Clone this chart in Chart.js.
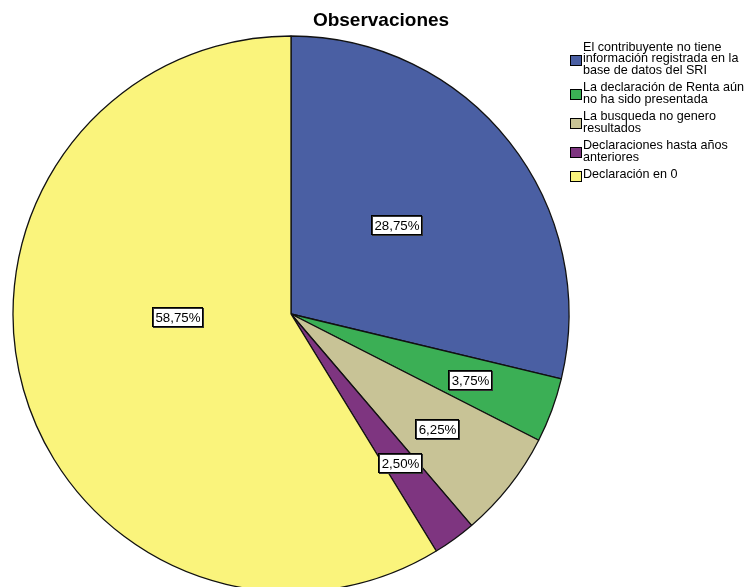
<!DOCTYPE html>
<html>
<head>
<meta charset="utf-8">
<title>Observaciones</title>
<script src="https://cdn.jsdelivr.net/npm/chart.js@4.4.0/dist/chart.umd.min.js"></script>
<style>
  html, body { margin: 0; padding: 0; background: #fff; }
  #wrap { width: 752px; height: 587px; overflow: hidden; }
</style>
</head>
<body>
<div id="wrap"><canvas id="pieChart" width="752" height="587"></canvas></div>
<script>
// categories (legend lines) and their shares in percent
const categories = [
  ['El contribuyente no tiene', 'información registrada en la', 'base de datos del SRI'],
  ['La declaración de Renta aún', 'no ha sido presentada'],
  ['La busqueda no genero', 'resultados'],
  ['Declaraciones hasta años', 'anteriores'],
  ['Declaración en 0']
];
const percentages = [28.75, 3.75, 6.25, 2.50, 58.75];
const sliceColors = ['#4a5fa3', '#3baf55', '#c8c396', '#7e3580', '#faf47c'];
const chartTitle = 'Observaciones';

const FONT = '"Liberation Sans", Arial, sans-serif';

// where each value box sits inside its slice (fraction of radius, angle shift in degrees)
const labelRadius = [0.497, 0.685, 0.667, 0.662, 0.41];
const labelShift = [-2, 0, 0, 0, 14.5];

const sliceLabels = {
  id: 'sliceLabels',
  afterDatasetsDraw(chart) {
    const ctx = chart.ctx;
    const meta = chart.getDatasetMeta(0);
    ctx.save();
    ctx.font = '13.3px ' + FONT;
    ctx.textAlign = 'center';
    ctx.textBaseline = 'middle';
    meta.data.forEach((arc, i) => {
      const p = arc.getProps(['x', 'y', 'startAngle', 'endAngle', 'outerRadius'], true);
      const mid = (p.startAngle + p.endAngle) / 2 + labelShift[i] * Math.PI / 180;
      const r = p.outerRadius * labelRadius[i];
      const cx = p.x + Math.cos(mid) * r;
      const cy = p.y + Math.sin(mid) * r;
      const text = percentages[i].toFixed(2).replace('.', ',') + '%';
      const w = Math.round(ctx.measureText(text).width + 5);
      const h = 19;
      const bx = Math.round(cx - w / 2) + 0.5;
      const by = Math.round(cy - h / 2) + 0.5;
      ctx.fillStyle = '#ffffff';
      ctx.fillRect(bx, by, w, h);
      // darker edge on the right and bottom
      ctx.strokeStyle = '#333333';
      ctx.lineWidth = 1;
      ctx.strokeRect(bx + 1, by + 1, w, h);
      ctx.strokeStyle = '#000000';
      ctx.strokeRect(bx, by, w, h);
      ctx.fillStyle = '#000000';
      ctx.fillText(text, bx + w / 2 + 0.5, by + h / 2 + 1);
    });
    ctx.restore();
  }
};

// title and the multi-line legend on the right
const sideLegend = {
  id: 'sideLegend',
  afterDraw(chart) {
    const ctx = chart.ctx;
    ctx.save();
    ctx.fillStyle = '#000';
    ctx.font = 'bold 19px ' + FONT;
    ctx.textAlign = 'center';
    ctx.textBaseline = 'alphabetic';
    ctx.fillText(chartTitle, 381, 26);

    ctx.font = '12.6px ' + FONT;
    ctx.textAlign = 'left';
    const lineH = 11.5;
    let y = 50.7;
    categories.forEach((lines, i) => {
      const first = y;
      lines.forEach((line, k) => {
        ctx.fillStyle = '#000';
        ctx.fillText(line, 583, y + k * lineH);
      });
      const last = y + (lines.length - 1) * lineH;
      const boxMid = (first + last) / 2 - 2.5;
      ctx.fillStyle = sliceColors[i];
      ctx.fillRect(570.5, Math.round(boxMid - 5) + 0.5, 11, 10);
      ctx.strokeStyle = '#000';
      ctx.lineWidth = 1;
      ctx.strokeRect(570.5, Math.round(boxMid - 5) + 0.5, 11, 10);
      y = last + lineH + 6;
    });
    ctx.restore();
  }
};

new Chart(document.getElementById('pieChart'), {
  type: 'pie',
  data: {
    labels: categories,
    datasets: [{
      data: percentages,
      backgroundColor: sliceColors,
      borderColor: '#111111',
      borderWidth: 1.3,
      radius: 278
    }]
  },
  options: {
    responsive: false,
    animation: false,
    layout: { padding: { left: 13, right: 183, top: 41, bottom: 0 } },
    plugins: {
      legend: { display: false },
      title: { display: false },
      tooltip: { enabled: false }
    }
  },
  plugins: [sliceLabels, sideLegend]
});
</script>
</body>
</html>
